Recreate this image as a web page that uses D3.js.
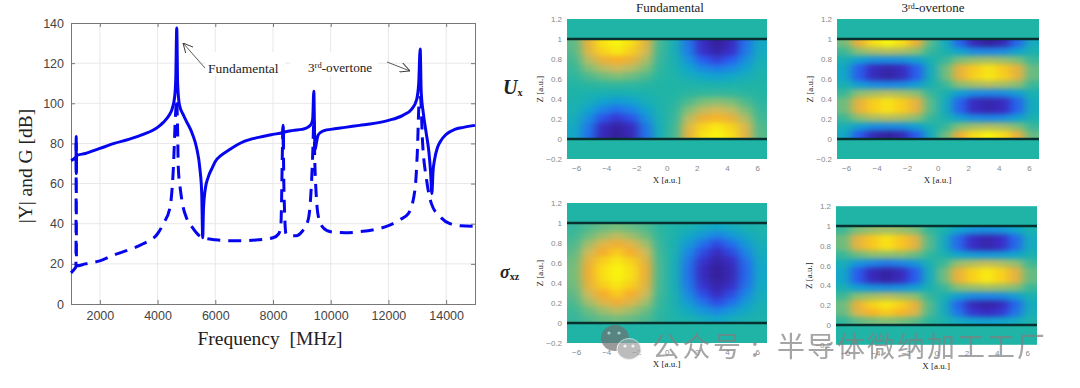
<!DOCTYPE html>
<html>
<head>
<meta charset="utf-8">
<script src="https://cdn.jsdelivr.net/npm/d3@7"></script>
<style>
  html, body { margin: 0; background: #fff; }
  svg { display: block; }
  .line { fill: none; stroke: #0505ee; stroke-width: 3; stroke-linejoin: round; }
  .serif { font-family: "Liberation Serif", serif; fill: #222; }
  .main .tick text { font: 12.5px "Liberation Sans", sans-serif; fill: #444; }
  .main .domain, .main .tick line { stroke: #777; }
  .small .tick text { font: 8px "Liberation Sans", sans-serif; fill: #888; }
  .small .domain { display: none; }
</style>
</head>
<body>
<div id="chart"></div>
<script>
// |Y| solid curve: [MHz, dB]
const admittance = [
  [1000, 71.5], [1150, 73], [1175, 73.5], [1180, 83.5], [1185, 65], [1195, 74], [1500, 75], [2000, 77.5], [2500, 80],
  [3000, 82], [3500, 84.5], [4000, 88], [4200, 90.5], [4400, 94], [4500, 97], [4590, 103], [4630, 112], [4665, 137.5],
  [4695, 110], [4760, 99], [4900, 94], [5000, 91], [5200, 85], [5350, 78], [5470, 67], [5530, 55], [5565, 33],
  [5590, 47], [5650, 57], [5750, 63], [5900, 68], [6000, 71], [6200, 74], [6500, 77], [7000, 81], [7500, 83], [8000, 84.5],
  [8340, 85.5], [8350, 89], [8358, 78], [8368, 85.5], [8700, 86.5], [9000, 87], [9200, 88], [9320, 89.5], [9375, 92],
  [9415, 106], [9440, 85], [9460, 77], [9500, 80], [9560, 84], [9650, 85.5], [9800, 86.5], [10000, 87], [10500, 88], [11000, 89],
  [11500, 90], [12000, 91.5], [12500, 94], [12800, 97], [12980, 102], [13050, 110], [13100, 127], [13135, 106],
  [13210, 95], [13300, 86], [13400, 76], [13460, 66], [13505, 55], [13545, 66], [13600, 72], [13700, 78], [13800, 81],
  [14000, 84.5], [14300, 87], [14600, 88], [15000, 89]
]
// G dashed curve: [MHz, dB]
const conductance = [
  [1000, 15.5], [1150, 18], [1172, 18.5], [1180, 80], [1190, 19], [1500, 20], [2000, 21.5], [2500, 24.5], [3000, 27],
  [3500, 30], [4000, 35], [4200, 40], [4430, 48], [4545, 67], [4625, 95], [4660, 102], [4690, 90], [4718, 68], [4800, 56],
  [4890, 48], [5000, 43], [5180, 38.7], [5565, 33], [6000, 32], [6500, 31.5], [7000, 31.5], [7500, 32], [8000, 33], [8200, 35],
  [8275, 40], [8350, 88], [8375, 60], [8450, 35], [8600, 34], [8800, 34], [9000, 36], [9220, 42], [9300, 52], [9370, 72],
  [9420, 92], [9450, 70], [9570, 43.7], [9740, 38], [10000, 36], [10500, 35.5], [11000, 36], [11500, 37], [12000, 39],
  [12400, 42], [12690, 45], [12920, 57], [13000, 75], [13070, 102], [13110, 103], [13185, 80], [13320, 62], [13490, 50],
  [13780, 43.7], [14130, 40], [14500, 39], [15000, 38.7]
]
const freqTicks = [2000, 4000, 6000, 8000, 10000, 12000, 14000]
const dbTicks = [0, 20, 40, 60, 80, 100, 120, 140]
const xTicksSmall = [-6, -4, -2, 0, 2, 4, 6]
const zTicksSmall = [-0.2, 0, 0.2, 0.4, 0.6, 0.8, 1, 1.2]

// field maps, top row first, z from 1 down to 0, percent of full scale
const ux1 = [
  [16, 66, 94, 100, 92, 62, 10, -8, -48, -84, -100, -86, -50, -16],
  [14, 60, 88, 96, 86, 56, 8, -8, -44, -80, -94, -80, -46, -14],
  [10, 42, 66, 76, 66, 40, 6, -6, -32, -60, -72, -60, -34, -10],
  [7, 26, 42, 50, 42, 26, 4, -4, -20, -38, -46, -38, -22, -6],
  [4, 12, 20, 25, 20, 12, 2, -2, -10, -18, -22, -18, -10, -3],
  [1, 3, 4, 5, 4, 3, 0, 0, -1, -3, -4, -3, -1, 0],
  [-1, -4, -6, -8, -6, -4, 0, 0, 3, 5, 6, 5, 3, 1],
  [-3, -10, -22, -28, -22, -10, -2, 2, 12, 24, 28, 24, 12, 3],
  [-6, -22, -42, -52, -42, -22, -4, 4, 26, 44, 52, 44, 24, 6],
  [-10, -34, -64, -76, -64, -34, -6, 6, 42, 68, 78, 66, 40, 9],
  [-14, -46, -84, -96, -84, -46, -8, 8, 58, 88, 96, 88, 56, 12],
  [-16, -50, -88, -100, -88, -50, -8, 10, 64, 94, 100, 92, 60, 14]
]
const ux3 = [
  [22, 68, 92, 100, 92, 68, 14, -12, -55, -88, -100, -88, -55, -12],
  [8, 28, 38, 42, 38, 28, 6, -5, -22, -36, -40, -36, -22, -5],
  [-7, -24, -32, -36, -32, -24, -5, 6, 24, 32, 36, 32, 24, 7],
  [-16, -58, -84, -92, -84, -58, -12, 20, 64, 85, 94, 85, 64, 18],
  [-18, -60, -86, -96, -86, -60, -12, 20, 66, 88, 96, 88, 64, 18],
  [-7, -26, -36, -40, -36, -26, -5, 7, 28, 36, 42, 36, 28, 7],
  [7, 28, 36, 42, 36, 28, 6, -5, -25, -36, -40, -36, -25, -5],
  [20, 64, 86, 94, 86, 64, 14, -12, -56, -84, -92, -84, -56, -12],
  [20, 64, 86, 94, 86, 64, 14, -12, -56, -84, -92, -84, -56, -12],
  [8, 28, 38, 42, 38, 28, 6, -5, -24, -36, -40, -36, -24, -5],
  [-7, -24, -34, -38, -34, -24, -5, 6, 26, 36, 40, 36, 26, 7],
  [-16, -60, -88, -100, -88, -60, -12, 20, 68, 92, 100, 92, 66, 18]
]
const sxz1 = [
  [6, 12, 18, 22, 18, 12, 3, -2, -6, -12, -18, -12, -6, -3],
  [8, 20, 34, 44, 34, 20, 4, -3, -16, -30, -42, -30, -16, -5],
  [12, 36, 58, 70, 58, 36, 6, -5, -28, -50, -68, -52, -28, -9],
  [16, 50, 74, 85, 74, 50, 8, -6, -38, -66, -84, -68, -40, -12],
  [20, 64, 86, 95, 86, 62, 9, -8, -46, -78, -94, -82, -50, -16],
  [22, 70, 92, 100, 92, 68, 10, -8, -50, -85, -100, -88, -55, -18],
  [22, 70, 92, 100, 92, 68, 10, -8, -50, -85, -100, -88, -55, -18],
  [20, 64, 86, 95, 86, 62, 9, -8, -46, -78, -94, -82, -50, -16],
  [16, 50, 74, 85, 74, 50, 8, -6, -38, -66, -84, -68, -40, -12],
  [12, 36, 58, 70, 58, 36, 6, -5, -28, -50, -68, -52, -28, -9],
  [8, 20, 34, 44, 34, 20, 4, -3, -16, -30, -42, -30, -16, -5],
  [6, 12, 18, 22, 18, 12, 3, -2, -6, -12, -18, -12, -6, -3]
]
const sxz3 = [
  [8, 24, 32, 36, 32, 24, 5, -4, -20, -30, -34, -30, -20, -5],
  [20, 62, 84, 94, 84, 62, 14, -12, -54, -82, -92, -82, -54, -12],
  [20, 62, 84, 94, 84, 62, 14, -12, -54, -82, -92, -82, -54, -12],
  [7, 20, 28, 30, 28, 20, 5, -4, -20, -26, -30, -26, -20, -5],
  [-8, -30, -40, -46, -40, -30, -6, 8, 32, 40, 46, 40, 32, 8],
  [-18, -60, -86, -96, -86, -60, -12, 20, 66, 88, 96, 88, 64, 18],
  [-18, -60, -86, -96, -86, -60, -12, 20, 66, 88, 96, 88, 64, 18],
  [-7, -24, -32, -36, -32, -24, -5, 6, 26, 32, 36, 32, 26, 7],
  [8, 28, 36, 42, 36, 28, 6, -5, -26, -36, -40, -36, -26, -5],
  [20, 66, 88, 96, 88, 66, 14, -12, -56, -86, -96, -86, -56, -12],
  [18, 58, 78, 86, 78, 58, 12, -10, -48, -76, -84, -76, -48, -10],
  [5, 16, 22, 26, 22, 16, 3, -3, -14, -20, -24, -20, -14, -3]
]

const w = 1080, h = 388
const svg = d3.select('#chart').append('svg').attr('width', w).attr('height', h)

// ---- spectrum plot
const x = d3.scaleLinear().domain([1000, 15000]).range([71, 475])
const y = d3.scaleLinear().domain([0, 140]).range([304, 23])
const main = svg.append('g').classed('main', true)

main.append('g').selectAll('line').data(freqTicks).enter().append('line')
  .attr('x1', d => x(d)).attr('x2', d => x(d)).attr('y1', y(0)).attr('y2', y(140)).attr('stroke', '#e8e8e8')
main.append('g').selectAll('line').data(dbTicks.slice(1, -1)).enter().append('line')
  .attr('y1', d => y(d)).attr('y2', d => y(d)).attr('x1', x(1000)).attr('x2', x(15000)).attr('stroke', '#e8e8e8')

// white boxes that sit behind the annotations
const annoBoxes = [[205, 52, 80, 24], [290, 52, 88, 24]]
main.append('g').selectAll('rect').data(annoBoxes).enter().append('rect')
  .attr('x', d => d[0]).attr('y', d => d[1]).attr('width', d => d[2]).attr('height', d => d[3]).attr('fill', '#fff')

main.append('g').attr('transform', `translate(0,${y(0)})`)
  .call(d3.axisBottom(x).tickValues(freqTicks).tickFormat(d3.format('d')).tickSize(-4).tickPadding(7))
main.append('g').attr('transform', `translate(0,${y(140)})`)
  .call(d3.axisTop(x).tickValues(freqTicks).tickFormat('').tickSize(-4))
main.append('g').attr('transform', `translate(${x(1000)},0)`)
  .call(d3.axisLeft(y).tickValues(dbTicks).tickSize(-4).tickPadding(7))
main.append('g').attr('transform', `translate(${x(15000)},0)`)
  .call(d3.axisRight(y).tickValues(dbTicks).tickFormat('').tickSize(-4))

const line = d3.line().x(d => x(d[0])).y(d => y(d[1])).curve(d3.curveMonotoneX)
main.append('path').datum(conductance).classed('line', true).attr('d', line).attr('stroke-dasharray', '13 8')
main.append('path').datum(admittance).classed('line', true).attr('d', line)

svg.append('text').classed('serif', true).attr('x', 270).attr('y', 345).attr('text-anchor', 'middle')
  .attr('font-size', 19.5).attr('xml:space', 'preserve').text('Frequency  [MHz]')
svg.append('text').classed('serif', true).attr('transform', 'translate(32,166) rotate(-90)').attr('text-anchor', 'middle')
  .attr('font-size', 19.5).text('|Y| and G [dB]')

svg.append('text').classed('serif', true).attr('x', 208).attr('y', 73).attr('font-size', 13.5).text('Fundamental')
const over = svg.append('text').classed('serif', true).attr('x', 308).attr('y', 72).attr('font-size', 13.2)
over.append('tspan').text('3')
over.append('tspan').attr('font-size', 8.5).attr('dy', -4).text('rd')
over.append('tspan').attr('dy', 4).text('-overtone')

const defs = svg.append('defs')
defs.append('marker').attr('id', 'arrow').attr('viewBox', '0 0 10 10').attr('refX', 10).attr('refY', 5)
  .attr('markerWidth', 10).attr('markerHeight', 10).attr('markerUnits', 'userSpaceOnUse').attr('orient', 'auto')
  .append('path').attr('d', 'M0,0L10,5L0,10').attr('fill', 'none').attr('stroke', '#333').attr('stroke-width', 0.9)
const arrows = [[205, 68, 183, 43], [387, 62, 410, 71]]
svg.append('g').selectAll('line').data(arrows).enter().append('line')
  .attr('x1', d => d[0]).attr('y1', d => d[1]).attr('x2', d => d[2]).attr('y2', d => d[3])
  .attr('stroke', '#333').attr('stroke-width', 0.8).attr('marker-end', 'url(#arrow)')

// ---- field maps
const parula = d3.scaleLinear()
  .domain([-100, -80, -60, -40, -20, 0, 25, 50, 75, 100])
  .range(['#35209a', '#3a2ecb', '#2a5cf0', '#1c86e6', '#10a5cc', '#1fb4a6', '#81be77', '#d1bb59', '#f9ab2a', '#f9f50e'])

defs.append('filter').attr('id', 'soft').attr('x', '-10%').attr('y', '-10%').attr('width', '120%').attr('height', '120%')
  .attr('color-interpolation-filters', 'sRGB')
  .append('feGaussianBlur').attr('stdDeviation', '5 2.8')

const panels = [
  {id: 'p1', data: ux1, x0: 567, x1: 767, zTop: 39, zBottom: 139},
  {id: 'p2', data: ux3, x0: 837, x1: 1039, zTop: 39, zBottom: 139},
  {id: 'p3', data: sxz1, x0: 567, x1: 767, zTop: 223, zBottom: 323},
  {id: 'p4', data: sxz3, x0: 836, x1: 1037, zTop: 226, zBottom: 325}
]

panels.forEach(p => {
  const px = d3.scaleLinear().domain([-6.6, 6.65]).range([p.x0, p.x1])
  const pz = d3.scaleLinear().domain([0, 1]).range([p.zBottom, p.zTop])
  const colBand = d3.scaleBand().domain(d3.range(14)).range([p.x0, p.x1])
  const rowBand = d3.scaleBand().domain(d3.range(12)).range([p.zTop, p.zBottom])
  const g = svg.append('g').classed('small', true)

  g.append('rect').attr('x', p.x0).attr('y', pz(1.2)).attr('width', p.x1 - p.x0).attr('height', pz(-0.2) - pz(1.2))
    .attr('fill', parula(0))

  defs.append('clipPath').attr('id', 'clip-' + p.id).append('rect')
    .attr('x', p.x0).attr('y', p.zTop).attr('width', p.x1 - p.x0).attr('height', p.zBottom - p.zTop)

  // outer rows and columns are drawn oversize so the blur does not fade at the clip edge
  const cells = g.append('g').attr('clip-path', `url(#clip-${p.id})`).append('g').attr('filter', 'url(#soft)')
  p.data.forEach((row, r) => {
    const pad = 16
    const top = rowBand(r) - (r === 0 ? pad : 0)
    const bottom = rowBand(r) + rowBand.bandwidth() + (r === 11 ? pad : 0)
    cells.selectAll(null).data(row).enter().append('rect')
      .attr('x', (d, c) => colBand(c) - (c === 0 ? pad : 0))
      .attr('width', (d, c) => colBand.bandwidth() + (c === 0 || c === 13 ? pad : 0) + 0.5)
      .attr('y', top).attr('height', bottom - top + 0.5)
      .attr('fill', d => parula(d))
  })

  g.selectAll('.plate').data([0, 1]).enter().append('line').classed('plate', true)
    .attr('x1', p.x0).attr('x2', p.x1).attr('y1', d => pz(d)).attr('y2', d => pz(d))
    .attr('stroke', '#08302f').attr('stroke-width', 2.6)

  g.append('g').attr('transform', `translate(0,${pz(-0.2) + 2})`)
    .call(d3.axisBottom(px).tickValues(xTicksSmall).tickSize(0).tickPadding(4))
  g.append('g').attr('transform', `translate(${p.x0 - 1},0)`)
    .call(d3.axisLeft(pz).tickValues(zTicksSmall).tickFormat(d3.format('')).tickSize(0).tickPadding(4))

  g.append('text').classed('serif', true).attr('x', px(0)).attr('y', pz(-0.2) + 24).attr('text-anchor', 'middle')
    .attr('font-size', 9).text('X [a.u.]')
  g.append('text').classed('serif', true)
    .attr('transform', `translate(${p.x0 - 24},${pz(0.5)}) rotate(-90)`).attr('text-anchor', 'middle')
    .attr('font-size', 9).text('Z [a.u.]')
})

svg.append('text').classed('serif', true).attr('x', 670).attr('y', 11.7).attr('text-anchor', 'middle')
  .attr('font-size', 13).text('Fundamental')
const third = svg.append('text').classed('serif', true).attr('x', 933).attr('y', 11.7).attr('text-anchor', 'middle').attr('font-size', 13)
third.append('tspan').text('3')
third.append('tspan').attr('font-size', 8).attr('dy', -3).text('rd')
third.append('tspan').attr('dy', 3).text('-overtone')

// row labels
const ux = svg.append('text').classed('serif', true).attr('x', 503).attr('y', 94)
  .attr('font-size', 20).attr('font-weight', 'bold').attr('font-style', 'italic').attr('fill', '#111')
ux.append('tspan').text('U')
ux.append('tspan').attr('font-size', 10).attr('dy', 2).attr('font-style', 'normal').text('x')
const sig = svg.append('text').classed('serif', true).attr('x', 500).attr('y', 278)
  .attr('font-size', 18).attr('font-weight', 'bold').attr('font-style', 'italic').attr('fill', '#111')
sig.append('tspan').text('σ')
sig.append('tspan').attr('font-size', 10).attr('dy', 2).attr('font-style', 'normal').text('xz')

// watermark
const mark = svg.append('g').attr('opacity', 0.7)
mark.append('ellipse').attr('cx', 615).attr('cy', 338).attr('rx', 14).attr('ry', 13).attr('fill', '#707070')
mark.append('ellipse').attr('cx', 629).attr('cy', 349).attr('rx', 12).attr('ry', 10.5).attr('fill', '#a0a0a0')
  .attr('stroke', '#eee').attr('stroke-width', 1)
const eyes = [[609, 333, '#ddd'], [619, 333, '#ddd'], [625, 346, '#eee'], [633, 346, '#eee']]
mark.selectAll('.eye').data(eyes).enter().append('circle').classed('eye', true)
  .attr('cx', d => d[0]).attr('cy', d => d[1]).attr('r', 1.6).attr('fill', d => d[2])
const markText = [[652, 2.5, '公众号'], [751, 0, ':'], [777, 2, '半导体微纳加工工厂']]
mark.selectAll('.mark').data(markText).enter().append('text').classed('mark', true)
  .attr('x', d => d[0]).attr('y', 357).attr('letter-spacing', d => d[1])
  .attr('font-family', '"Noto Sans CJK SC"').attr('font-size', 28).attr('fill', '#808080').text(d => d[2])
</script>
</body>
</html>
